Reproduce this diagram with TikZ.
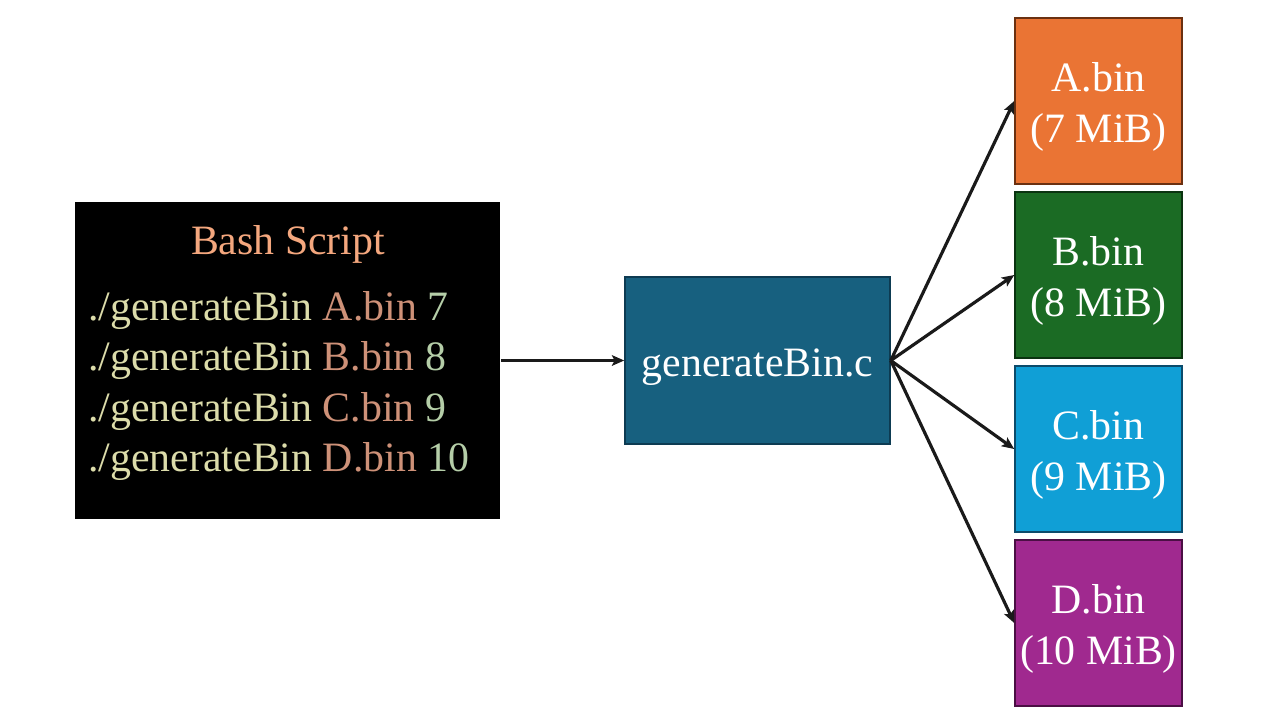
\documentclass[tikz,border=0pt]{standalone}
\usepackage{fontspec}
\setmainfont{Liberation Serif}
\usetikzlibrary{arrows.meta}
\definecolor{titlec}{HTML}{F4A77E}
\definecolor{fnc}{HTML}{DCDCAA}
\definecolor{strc}{HTML}{CE9178}
\definecolor{numc}{HTML}{B5CEA8}
\definecolor{genfill}{HTML}{17607F}
\definecolor{genline}{HTML}{0D3B52}
\definecolor{afill}{HTML}{EA7434}
\definecolor{aline}{HTML}{6B3010}
\definecolor{bfill}{HTML}{1B6B24}
\definecolor{bline}{HTML}{0A3310}
\definecolor{cfill}{HTML}{109FD6}
\definecolor{cline}{HTML}{0B4B6B}
\definecolor{dfill}{HTML}{A0298F}
\definecolor{dline}{HTML}{4B0F44}
\definecolor{arrc}{HTML}{1A1A1A}
\begin{document}
\begin{tikzpicture}[x=0.02cm,y=-0.02cm,
  box/.style={rectangle, inner sep=0pt, line width=0.9pt},
  txt/.style={font=\fontsize{23.8}{28.3}\selectfont},
  binbox/.style={box, minimum width=3.34cm, minimum height=3.32cm},
  bintxt/.style={text=white, align=center, inner sep=0pt, font=\fontsize{23.8}{29.5}\selectfont},
  arr/.style={draw=arrc, line width=1.8pt, -{Stealth[length=7pt,width=6pt,inset=1.5pt]}}]
\useasboundingbox (0,0) rectangle (1280,720);
\node[box, fill=black, minimum width=8.5cm, minimum height=6.34cm] (bash) at (287.5,360.5) {};
\node[txt, anchor=base, inner sep=0pt, text=titlec] (title) at (288,254) {Bash Script};
\node[txt, anchor=base west, inner sep=0pt] (l1) at (88,320) {\color{fnc}./generateBin \color{strc}A.bin \color{numc}7};
\node[txt, anchor=base west, inner sep=0pt] (l2) at (88,370) {\color{fnc}./generateBin \color{strc}B.bin \color{numc}8};
\node[txt, anchor=base west, inner sep=0pt] (l3) at (88,421) {\color{fnc}./generateBin \color{strc}C.bin \color{numc}9};
\node[txt, anchor=base west, inner sep=0pt] (l4) at (88,471) {\color{fnc}./generateBin \color{strc}D.bin \color{numc}10};
\node[box, draw=genline, fill=genfill, minimum width=5.3cm, minimum height=3.34cm] (gen) at (757.5,360.5) {};
\node[txt, text=white, inner sep=0pt] (gentxt) at (757.5,367) {generateBin.c};
\node[binbox, draw=aline, fill=afill] (a) at (1098.5,101) {};
\node[binbox, draw=bline, fill=bfill] (b) at (1098.5,275) {};
\node[binbox, draw=cline, fill=cfill] (c) at (1098.5,449) {};
\node[binbox, draw=dline, fill=dfill] (d) at (1098.5,623) {};
\node[bintxt] (at) at (1098.5,107) {A.bin\\(7 MiB)};
\node[bintxt] (bt) at (1098.5,281) {B.bin\\(8 MiB)};
\node[bintxt] (ct) at (1098.5,455) {C.bin\\(9 MiB)};
\node[bintxt] (dt) at (1098.5,629) {D.bin\\(10 MiB)};
\draw[arr] (bash.east) -- (gen.west);
\draw[arr] (gen.east) -- (a.west);
\draw[arr] (gen.east) -- (b.west);
\draw[arr] (gen.east) -- (c.west);
\draw[arr] (gen.east) -- (d.west);
\end{tikzpicture}
\end{document}
